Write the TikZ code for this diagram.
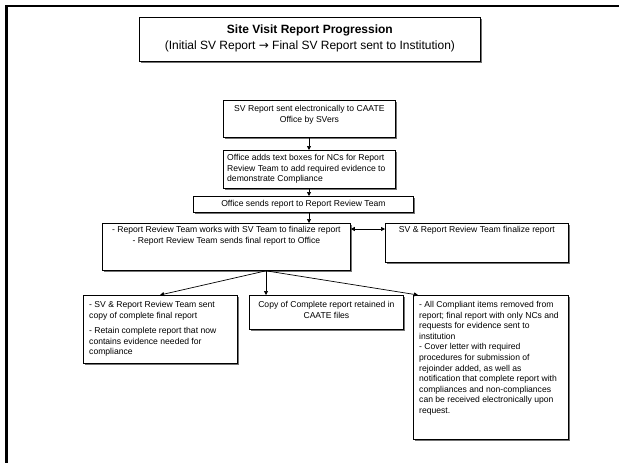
\documentclass[tikz,border=0pt]{standalone}
\usepackage{fontspec}
\setmainfont{Liberation Sans}
\newfontfamily\symf{DejaVu Sans}
\usetikzlibrary{arrows.meta,shadows}
\begin{document}
\begin{tikzpicture}[x=1pt,y=-1pt,
  boxst/.style={draw=black, line width=0.8pt, fill=white, rectangle, inner sep=0pt, anchor=north west,
    drop shadow={shadow xshift=1.1pt, shadow yshift=-1.1pt, fill=black!55, opacity=1}},
  txt/.style={inner sep=0pt, font=\fontsize{8.6}{10.6}\selectfont},
  arr/.style={-{Triangle[length=4pt,width=4pt]}, line width=0.7pt},
  darr/.style={{Triangle[length=4pt,width=4pt]}-{Triangle[length=4pt,width=4pt]}, line width=0.7pt},
]
\useasboundingbox (0,0) rectangle (619,463);
\clip (0,0) rectangle (619,463);
\fill[white] (0,0) rectangle (619,463);
% outer frame
\draw[line width=2.6pt] (6.5,480) -- (6.5,6) -- (640,6);

% title
\node (ttl) [boxst, minimum width=341pt, minimum height=44pt] at (139,17) {};
\node (ttltxt) [inner sep=0pt, align=center, font=\fontsize{12}{16.5}\selectfont] at ([yshift=1pt]ttl.center)
  {\textbf{Site Visit Report Progression}\\(Initial SV Report {\symf →} Final SV Report sent to Institution)};

% boxes
\node (b1) [boxst, minimum width=172pt, minimum height=37pt] at (223,100) {};
\node (b2) [boxst, minimum width=172pt, minimum height=38pt] at (223,150) {};
\node (b3) [boxst, minimum width=220pt, minimum height=16pt] at (193,196) {};
\node (b4) [boxst, minimum width=248pt, minimum height=47pt] at (102,223) {};
\node (b5) [boxst, minimum width=183pt, minimum height=39pt] at (385,223) {};
\node (b6) [boxst, minimum width=154pt, minimum height=68pt] at (83,295) {};
\node (b7) [boxst, minimum width=154pt, minimum height=34pt] at (249,295) {};
\node (b8) [boxst, minimum width=155pt, minimum height=144pt] at (413,295) {};

% texts
\node (t1) [txt, anchor=north, align=center] at ([yshift=-5pt]b1.north)
  {SV Report sent electronically to CAATE\\Office by SVers};
\node (t2) [txt, anchor=north west, align=left] at ([xshift=4pt,yshift=-4pt]b2.north west)
  {Office adds text boxes for NCs for Report\\Review Team to add required evidence to\\demonstrate Compliance};
\node (t3) [txt, anchor=center] at (b3.center) {Office sends report to Report Review Team};
\node (t4) [txt, anchor=north, align=center] at ([yshift=-3pt]b4.north)
  {- Report Review Team works with SV Team to finalize report\\- Report Review Team sends final report to Office};
\node (t5) [txt, anchor=north, align=center] at ([yshift=-3pt]b5.north)
  {SV \& Report Review Team finalize report};
\node (t6) [txt, anchor=north west, align=left] at ([xshift=6pt,yshift=-6pt]b6.north west)
  {- SV \& Report Review Team sent\\copy of complete final report\\[5pt]- Retain complete report that now\\contains evidence needed for\\compliance};
\node (t7) [txt, anchor=north, align=center] at ([yshift=-6pt]b7.north)
  {Copy of Complete report retained in\\CAATE files};
\node (t8) [txt, anchor=north west, align=left] at ([xshift=6pt,yshift=-6pt]b8.north west)
  {- All Compliant items removed from\\report; final report with only NCs and\\requests for evidence sent to\\institution\\- Cover letter with required\\procedures for submission of\\rejoinder added, as well as\\notification that complete report with\\compliances and non-compliances\\can be received electronically upon\\request.};

% connectors
\coordinate (spine1) at ([xshift=86pt]b1.south west);
\coordinate (fork) at ([xshift=164pt]b4.south west);
\draw[arr] (spine1) -- (spine1 |- b2.north);
\draw[arr] (spine1 |- b2.south) -- (spine1 |- b3.north);
\draw[arr] (spine1 |- b3.south) -- (spine1 |- b4.north);
\draw[darr] ([yshift=-6pt]b4.north east) -- ([yshift=-6pt]b4.north east -| b5.west);
\draw[arr] (fork) -- ([xshift=77pt]b6.north west);
\draw[arr] (fork) -- (fork |- b7.north);
\draw[arr] (fork) -- ([xshift=5pt]b8.north west);
\end{tikzpicture}
\end{document}
